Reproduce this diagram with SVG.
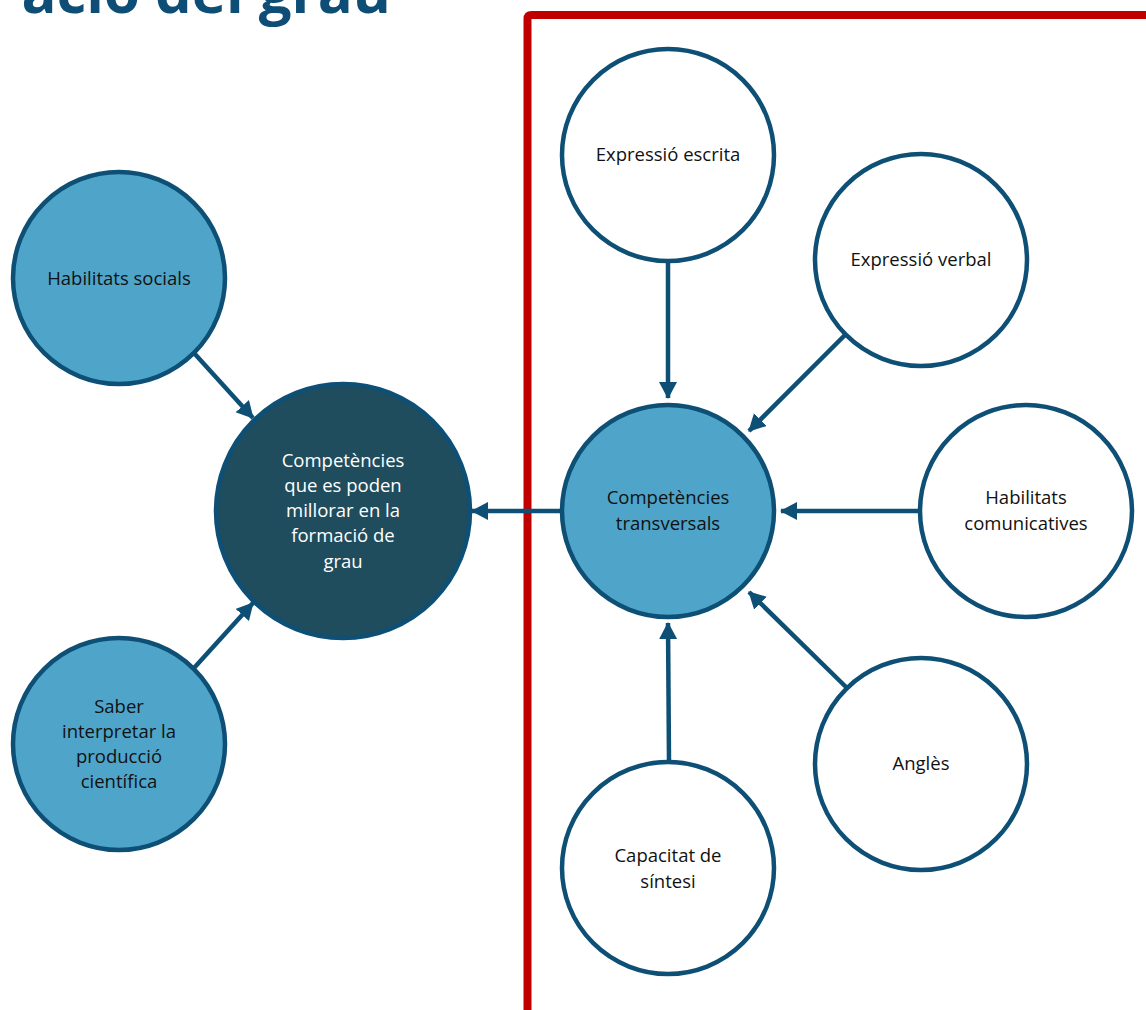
<svg xmlns="http://www.w3.org/2000/svg" width="1146" height="1010" viewBox="0 0 1146 1010">
<defs>
<style>
.n{stroke:#0e4f75;stroke-width:4.5}
.lb{fill:#4ea5c9}
.dk{fill:#1f4d5e}
.wh{fill:#ffffff}
.t{font-family:"Open Sans","DejaVu Sans",sans-serif;font-size:18.5px;fill:#111;text-anchor:middle}
.tw{fill:#ffffff}
.c{stroke:#0e4f75;stroke-width:4.5;fill:none;marker-end:url(#ah)}
</style>
<marker id="ah" markerUnits="userSpaceOnUse" markerWidth="20" markerHeight="20" refX="16" refY="9" orient="auto">
<path d="M0,0 L17,9 L0,18 z" fill="#0e4f75"/>
</marker>
</defs>
<rect width="1146" height="1010" fill="#ffffff"/>
<text x="391" y="13" font-family="'Open Sans','DejaVu Sans',sans-serif" font-weight="bold" font-size="58" fill="#0e4e76" text-anchor="end">ació del grau</text>
<path d="M527.5,1012 L527.5,19 Q527.5,15 531.5,15 L1150,15" fill="none" stroke="#c00000" stroke-width="8"/>
<g id="connectors">
<line class="c" x1="668" y1="262" x2="668" y2="398"/>
<line class="c" x1="846" y1="334" x2="749" y2="431"/>
<line class="c" x1="919" y1="511" x2="781" y2="511"/>
<line class="c" x1="846" y1="687" x2="749" y2="592"/>
<line class="c" x1="669" y1="762" x2="668" y2="623"/>
<line class="c" x1="561" y1="511" x2="472" y2="511"/>
<line class="c" x1="194" y1="353" x2="253" y2="418"/>
<line class="c" x1="194" y1="668" x2="253" y2="603"/>
</g>
<g id="habilitats-socials"><circle class="n lb" cx="119" cy="278" r="106"/><text class="t" x="119" y="285">Habilitats socials</text></g>
<g id="saber-interpretar"><circle class="n lb" cx="119" cy="744" r="106"/><text class="t" x="119" y="713">Saber</text><text class="t" x="119" y="738">interpretar la</text><text class="t" x="119" y="763">producció</text><text class="t" x="119" y="788">científica</text></g>
<g id="competencies-grau"><circle class="n dk" cx="343" cy="511" r="127"/><text class="t tw" x="343" y="467">Competències</text><text class="t tw" x="343" y="492">que es poden</text><text class="t tw" x="343" y="517">millorar en la</text><text class="t tw" x="343" y="542">formació de</text><text class="t tw" x="343" y="568">grau</text></g>
<g id="competencies-transversals"><circle class="n lb" cx="668" cy="511" r="106"/><text class="t" x="668" y="504">Competències</text><text class="t" x="668" y="530">transversals</text></g>
<g id="expressio-escrita"><circle class="n wh" cx="668" cy="155" r="106"/><text class="t" x="668" y="161">Expressió escrita</text></g>
<g id="expressio-verbal"><circle class="n wh" cx="921" cy="260" r="106"/><text class="t" x="921" y="266">Expressió verbal</text></g>
<g id="habilitats-comunicatives"><circle class="n wh" cx="1026" cy="511" r="106"/><text class="t" x="1026" y="504">Habilitats</text><text class="t" x="1026" y="530">comunicatives</text></g>
<g id="angles"><circle class="n wh" cx="921" cy="764" r="106"/><text class="t" x="921" y="770">Anglès</text></g>
<g id="capacitat-sintesi"><circle class="n wh" cx="668" cy="868" r="106"/><text class="t" x="668" y="862">Capacitat de</text><text class="t" x="668" y="888">síntesi</text></g>
</svg>
